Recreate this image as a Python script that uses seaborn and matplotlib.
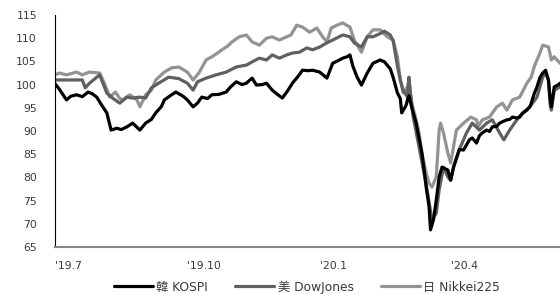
import matplotlib
matplotlib.use("Agg")
import matplotlib.pyplot as plt
import seaborn as sns
import pandas as pd

# values (index, start of Jul 2019 ~ 100)
kospi_dates = [
    "2019-07-01", "2019-07-04", "2019-07-09", "2019-07-12", "2019-07-16", "2019-07-20",
    "2019-07-24", "2019-07-27", "2019-07-30", "2019-08-02", "2019-08-06", "2019-08-09",
    "2019-08-13", "2019-08-16", "2019-08-20", "2019-08-24", "2019-08-27", "2019-08-29",
    "2019-09-02", "2019-09-06", "2019-09-09", "2019-09-13", "2019-09-15", "2019-09-20",
    "2019-09-23", "2019-09-28", "2019-10-01", "2019-10-05", "2019-10-08", "2019-10-11",
    "2019-10-15", "2019-10-18", "2019-10-23", "2019-10-28", "2019-10-31", "2019-11-04",
    "2019-11-08", "2019-11-11", "2019-11-15", "2019-11-18", "2019-11-22", "2019-11-25",
    "2019-11-29", "2019-12-03", "2019-12-06", "2019-12-10", "2019-12-13", "2019-12-17",
    "2019-12-20", "2019-12-24", "2019-12-27", "2020-01-01", "2020-01-06", "2020-01-10",
    "2020-01-14", "2020-01-17", "2020-01-20", "2020-01-22", "2020-01-24", "2020-01-27",
    "2020-01-30", "2020-02-03", "2020-02-07", "2020-02-12", "2020-02-15", "2020-02-19",
    "2020-02-21", "2020-02-24", "2020-02-26", "2020-02-27", "2020-03-01", "2020-03-02",
    "2020-03-03", "2020-03-05", "2020-03-08", "2020-03-10", "2020-03-12", "2020-03-14",
    "2020-03-15", "2020-03-17", "2020-03-18", "2020-03-20", "2020-03-22", "2020-03-24",
    "2020-03-26", "2020-03-30", "2020-04-01", "2020-04-03", "2020-04-07", "2020-04-10",
    "2020-04-14", "2020-04-16", "2020-04-19", "2020-04-21", "2020-04-23", "2020-04-26",
    "2020-04-28", "2020-04-30", "2020-05-03", "2020-05-05", "2020-05-07", "2020-05-10",
    "2020-05-12", "2020-05-14", "2020-05-17", "2020-05-19", "2020-05-21", "2020-05-24",
    "2020-05-26", "2020-05-27", "2020-05-29", "2020-05-31", "2020-06-02", "2020-06-04",
    "2020-06-06", "2020-06-08", "2020-06-09", "2020-06-10", "2020-06-12", "2020-06-15",
    "2020-06-16",
]
kospi = [
    100.2, 99.0, 96.7, 97.5, 97.8, 97.4, 98.4, 98.0, 97.3, 95.8, 93.9, 90.2,
    90.6, 90.3, 90.9, 91.7, 90.8, 90.2, 91.7, 92.5, 93.9, 95.3, 96.7, 97.8,
    98.4, 97.5, 96.7, 95.2, 96.0, 97.3, 97.0, 97.8, 97.9, 98.4, 99.5, 100.6,
    100.0, 100.3, 101.4, 99.9, 100.0, 100.3, 98.8, 97.8, 97.1, 98.8, 100.3, 101.8,
    103.1, 103.0, 103.1, 102.7, 101.4, 104.6, 105.2, 105.7, 106.0, 106.4, 104.0, 101.6,
    99.9, 102.5, 104.6, 105.3, 104.9, 103.4, 101.6, 98.2, 97.0, 93.9, 95.5, 96.7,
    97.6, 95.0, 91.7, 88.5, 85.3, 80.5, 77.9, 73.6, 68.7, 70.8, 75.1, 80.1,
    82.2, 81.6, 79.4, 82.2, 86.0, 85.9, 88.1, 88.5, 87.4, 89.0, 89.6, 90.2,
    89.9, 90.9, 91.0, 91.7, 92.0, 92.4, 92.5, 93.0, 92.8, 93.0, 93.8, 94.5,
    95.2, 96.0, 98.0, 99.5, 101.5, 102.5, 103.1, 100.9, 97.5, 95.2, 99.5, 100.0,
    100.3,
]

dow_dates = [
    "2019-07-01", "2019-07-09", "2019-07-16", "2019-07-20", "2019-07-22", "2019-07-25",
    "2019-08-01", "2019-08-06", "2019-08-10", "2019-08-15", "2019-08-20", "2019-08-24",
    "2019-08-29", "2019-09-02", "2019-09-06", "2019-09-11", "2019-09-18", "2019-09-25",
    "2019-10-01", "2019-10-05", "2019-10-08", "2019-10-14", "2019-10-21", "2019-10-28",
    "2019-11-04", "2019-11-11", "2019-11-15", "2019-11-20", "2019-11-25", "2019-11-29",
    "2019-12-04", "2019-12-09", "2019-12-13", "2019-12-18", "2019-12-23", "2019-12-27",
    "2020-01-01", "2020-01-06", "2020-01-10", "2020-01-17", "2020-01-22", "2020-01-25",
    "2020-01-30", "2020-02-03", "2020-02-07", "2020-02-12", "2020-02-15", "2020-02-19",
    "2020-02-21", "2020-02-24", "2020-02-26", "2020-02-28", "2020-03-02", "2020-03-03",
    "2020-03-04", "2020-03-06", "2020-03-10", "2020-03-14", "2020-03-16", "2020-03-19",
    "2020-03-22", "2020-03-24", "2020-03-27", "2020-03-30", "2020-04-01", "2020-04-03",
    "2020-04-07", "2020-04-12", "2020-04-16", "2020-04-21", "2020-04-26", "2020-04-30",
    "2020-05-05", "2020-05-08", "2020-05-12", "2020-05-17", "2020-05-21", "2020-05-26",
    "2020-05-31", "2020-06-04", "2020-06-06", "2020-06-08", "2020-06-09", "2020-06-10",
    "2020-06-12", "2020-06-16",
]
dow = [
    101.0, 101.0, 101.0, 101.0, 99.3, 100.3,
    102.1, 98.2, 97.1, 96.0, 97.3, 97.1,
    97.3, 97.1, 99.3, 100.3, 101.6, 101.3,
    100.3, 98.8, 100.6, 101.4, 102.1, 102.7,
    103.8, 104.2, 104.9, 105.7, 105.3, 106.4,
    105.7, 106.4, 106.8, 107.0, 107.9, 107.5,
    108.1, 109.0, 109.6, 110.7, 110.3, 109.0,
    108.1, 110.3, 110.3, 111.0, 111.5, 110.7,
    109.5, 104.0, 101.0, 98.8, 97.3, 101.6,
    98.2, 93.0, 86.6, 80.1, 76.6, 70.8,
    72.3, 77.3, 82.2, 80.1, 79.4, 82.2,
    86.0, 89.6, 91.7, 90.2, 91.7, 92.4,
    89.6, 88.1, 90.2, 92.4, 93.9, 95.2,
    97.3, 101.6, 102.5, 101.0, 96.0, 94.5,
    98.8, 99.5,
]

nikkei_dates = [
    "2019-07-01", "2019-07-04", "2019-07-09", "2019-07-16", "2019-07-20", "2019-07-25",
    "2019-08-01", "2019-08-04", "2019-08-08", "2019-08-12", "2019-08-15", "2019-08-17",
    "2019-08-22", "2019-08-27", "2019-08-29", "2019-09-02", "2019-09-06", "2019-09-09",
    "2019-09-15", "2019-09-20", "2019-09-25", "2019-10-01", "2019-10-05", "2019-10-09",
    "2019-10-14", "2019-10-18", "2019-10-22", "2019-10-25", "2019-10-29", "2019-11-01",
    "2019-11-06", "2019-11-11", "2019-11-15", "2019-11-20", "2019-11-25", "2019-11-29",
    "2019-12-04", "2019-12-09", "2019-12-12", "2019-12-16", "2019-12-20", "2019-12-25",
    "2019-12-30", "2020-01-03", "2020-01-06", "2020-01-09", "2020-01-13", "2020-01-17",
    "2020-01-22", "2020-01-25", "2020-01-30", "2020-02-03", "2020-02-07", "2020-02-12",
    "2020-02-17", "2020-02-21", "2020-02-24", "2020-02-26", "2020-02-28", "2020-03-02",
    "2020-03-03", "2020-03-05", "2020-03-08", "2020-03-10", "2020-03-12", "2020-03-15",
    "2020-03-17", "2020-03-19", "2020-03-22", "2020-03-24", "2020-03-25", "2020-03-27",
    "2020-03-30", "2020-04-01", "2020-04-03", "2020-04-05", "2020-04-10", "2020-04-15",
    "2020-04-19", "2020-04-20", "2020-04-23", "2020-04-28", "2020-05-03", "2020-05-07",
    "2020-05-10", "2020-05-14", "2020-05-19", "2020-05-24", "2020-05-27", "2020-05-29",
    "2020-06-02", "2020-06-04", "2020-06-08", "2020-06-10", "2020-06-12", "2020-06-16",
]
nikkei = [
    102.1, 102.5, 102.1, 102.7, 102.1, 102.7,
    102.5, 100.5, 97.3, 98.4, 97.0, 96.7,
    97.8, 96.7, 95.2, 97.8, 98.8, 101.0,
    102.7, 103.6, 103.8, 102.7, 101.0, 102.5,
    105.3, 106.0, 106.8, 107.5, 108.3, 109.2,
    110.3, 110.7, 109.2, 108.5, 110.0, 110.3,
    109.6, 110.3, 110.7, 112.8, 112.4, 111.3,
    112.2, 110.3, 109.2, 112.2, 112.8, 113.3,
    112.4, 109.6, 107.0, 110.3, 111.8, 111.8,
    110.3, 109.6, 106.0, 101.0, 98.2, 99.5,
    101.0, 96.0, 92.4, 89.6, 85.3, 80.9,
    78.8, 77.9, 80.1, 90.2, 91.7, 89.6,
    85.3, 83.1, 86.6, 90.2, 91.7, 93.0,
    92.4, 90.9, 92.4, 93.0, 95.2, 96.0,
    94.5, 96.7, 97.3, 100.3, 101.6, 103.8,
    106.8, 108.5, 108.1, 105.3, 106.0, 104.6,
]

tick_dates = ["2019-07-01", "2019-10-01", "2020-01-01", "2020-04-01"]
tick_labels = ["'19.7", "'19.10", "'20.1", "'20.4"]
series_names = ["韓 KOSPI", "美 DowJones", "日 Nikkei225"]
colors = ["#000000", "#606060", "#939393"]

sns.set_style("white")
plt.rcParams["font.family"] = ["DejaVu Sans", "Noto Sans CJK KR"]

frames = []
for name, d, v in [(series_names[0], kospi_dates, kospi),
                   (series_names[1], dow_dates, dow),
                   (series_names[2], nikkei_dates, nikkei)]:
    frames.append(pd.DataFrame({"date": pd.to_datetime(d), "value": v, "series": name}))
df = pd.concat(frames, ignore_index=True)

fig = plt.figure(figsize=(5.6, 2.94), dpi=100)
ax = fig.add_axes([55 / 560, 47 / 294, 505 / 560, 232 / 294])

# draw lightest first so KOSPI sits on top
for name, color in reversed(list(zip(series_names, colors))):
    sns.lineplot(data=df[df["series"] == name], x="date", y="value", color=color,
                 linewidth=2.3, label=name, ax=ax, sort=False)

ax.set_ylim(65, 115)
ax.set_yticks(range(65, 116, 5))
ax.set_xlim(pd.Timestamp("2019-07-01"), pd.Timestamp("2020-06-16"))
ax.set_xticks(pd.to_datetime(tick_dates))
ax.set_xticklabels(tick_labels, ha="left")
ax.set_xlabel("")
ax.set_ylabel("")

ax.tick_params(axis="y", direction="in", length=6, width=1, color="black",
               pad=13, labelsize=7.8, labelcolor="#3a3a3a")
ax.tick_params(axis="x", length=0, pad=10, labelsize=7.8, labelcolor="#3a3a3a")
for s in ["top", "right"]:
    ax.spines[s].set_visible(False)
ax.spines["left"].set_color("black")
ax.spines["bottom"].set_color("#888888")
ax.spines["bottom"].set_linewidth(1.5)

handles, labels = ax.get_legend_handles_labels()
order = [labels.index(n) for n in series_names]
ax.get_legend().remove()
fig.legend([handles[i] for i in order], [labels[i] for i in order],
           loc="center", bbox_to_anchor=(307 / 560, 7 / 294), ncol=3,
           frameon=False, fontsize=8.8, handlelength=3.2, handletextpad=0.3,
           columnspacing=2.2, labelcolor="#3a3a3a", borderpad=0)

fig.savefig("out.png", dpi=100)
